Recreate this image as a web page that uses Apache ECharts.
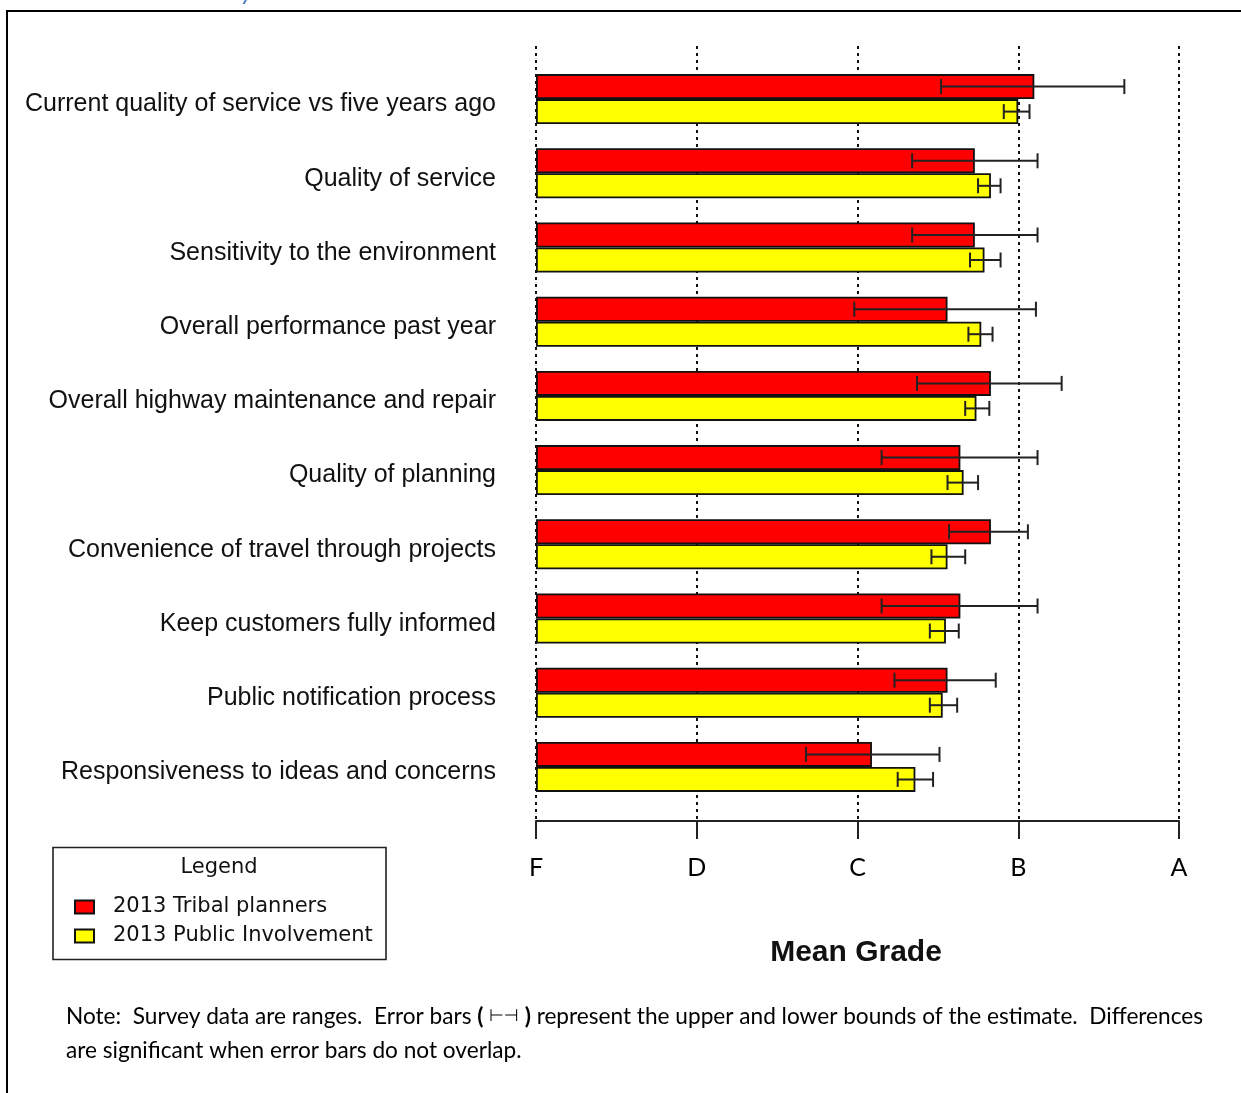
<!DOCTYPE html>
<html>
<head>
<meta charset="utf-8">
<script src="https://cdn.jsdelivr.net/npm/echarts@6/dist/echarts.min.js"></script>
<style>
  html, body { margin: 0; padding: 0; background: #fff; }
  #chart { width: 1241px; height: 1093px; }
</style>
</head>
<body>
<div id="chart"></div>
<script>
// ---- data ----
const categories = [
  'Current quality of service vs five years ago',
  'Quality of service',
  'Sensitivity to the environment',
  'Overall performance past year',
  'Overall highway maintenance and repair',
  'Quality of planning',
  'Convenience of travel through projects',
  'Keep customers fully informed',
  'Public notification process',
  'Responsiveness to ideas and concerns'
];
const gradeLabels = ['F', 'D', 'C', 'B', 'A'];
const seriesNames = ['2013 Tribal planners', '2013 Public Involvement'];

const tribalMean = [3.10, 2.73, 2.73, 2.56, 2.83, 2.64, 2.83, 2.64, 2.56, 2.09];
const tribalLow  = [2.52, 2.34, 2.34, 1.98, 2.37, 2.15, 2.57, 2.15, 2.23, 1.68];
const tribalHigh = [3.66, 3.12, 3.12, 3.11, 3.27, 3.12, 3.06, 3.12, 2.86, 2.51];

const publicMean = [3.00, 2.83, 2.79, 2.77, 2.74, 2.66, 2.56, 2.55, 2.53, 2.36];
const publicLow  = [2.91, 2.75, 2.70, 2.69, 2.67, 2.56, 2.46, 2.45, 2.45, 2.25];
const publicHigh = [3.07, 2.89, 2.89, 2.84, 2.82, 2.75, 2.67, 2.63, 2.62, 2.47];

const axisTitle = 'Mean Grade';
const legendTitle = 'Legend';

// ---- build ----
const BAR_W = 25;
const tribalErr = categories.map((c, i) => [i, tribalLow[i], tribalHigh[i]]);
const publicErr = categories.map((c, i) => [i, publicLow[i], publicHigh[i]]);

function errorRenderer(offset) {
  return function (params, api) {
    const cat = api.value(0);
    const p1 = api.coord([api.value(1), cat]);
    const p2 = api.coord([api.value(2), cat]);
    const y = p1[1] + offset;
    const h = 7.5;
    const style = { stroke: '#222', lineWidth: 2 };
    return {
      type: 'group',
      children: [
        { type: 'line', shape: { x1: p1[0], y1: y, x2: p2[0], y2: y }, style: style },
        { type: 'line', shape: { x1: p1[0], y1: y - h, x2: p1[0], y2: y + h }, style: style },
        { type: 'line', shape: { x1: p2[0], y1: y - h, x2: p2[0], y2: y + h }, style: style }
      ]
    };
  };
}

// Note text fitted to width
const noteA = 'Note:  Survey data are ranges.  Error bars ';
const noteB = ' represent the upper and lower bounds of the estimate.  Differences';
const noteLine2 = 'are significant when error bars do not overlap.';
const noteFont = 'Lato';
const cv = document.createElement('canvas').getContext('2d');
cv.font = '20px ' + noteFont;
const wPlain = cv.measureText(noteA + '(    )' + noteB).width;
const noteSize = Math.max(14, Math.min(26, 20 * 1119 / wPlain));

const chart = echarts.init(document.getElementById('chart'), null, { renderer: 'canvas' });

const plotLeft = 536, plotWidth = 643;

const option = {
  animation: false,
  backgroundColor: '#fff',
  grid: [
    { left: plotLeft, width: plotWidth, top: 62, height: 742 },
    { left: plotLeft, width: plotWidth, top: 46, height: 775 }
  ],
  xAxis: [
    { gridIndex: 0, type: 'value', min: 0, max: 4, interval: 1, show: false },
    {
      gridIndex: 1, type: 'value', min: 0, max: 4, interval: 1, position: 'bottom',
      axisLine: { show: true, lineStyle: { color: '#222', width: 2 } },
      axisTick: { show: true, length: 18, inside: false, lineStyle: { color: '#222', width: 2 } },
      axisLabel: {
        margin: 34, fontFamily: 'Lato', fontSize: 25, color: '#000',
        formatter: v => gradeLabels[Math.round(v)]
      },
      splitLine: { show: true, lineStyle: { color: '#111', width: 2, type: [3, 4] } }
    }
  ],
  yAxis: [
    {
      gridIndex: 0, type: 'category', inverse: true, data: categories,
      axisLine: { show: false }, axisTick: { show: false },
      axisLabel: {
        margin: 40, color: '#111',
        formatter: v => '{t|' + v + '}',
        rich: {
          t: {
            fontFamily: 'Liberation Sans, Arial, sans-serif', fontSize: 25, color: '#111',
            lineHeight: 30, padding: [11, 0, 0, 0]
          }
        }
      }
    },
    { gridIndex: 1, type: 'value', min: 0, max: 1, show: false }
  ],
  legend: {
    orient: 'vertical',
    left: 74, top: 896, padding: 0,
    itemWidth: 19, itemHeight: 13, itemGap: 7,
    icon: 'rect',
    data: seriesNames,
    textStyle: { fontFamily: 'DejaVu Sans', fontSize: 21, color: '#111', lineHeight: 22, padding: [0, 0, 0, 14] },
    selectedMode: false
  },
  series: [
    {
      name: seriesNames[0], type: 'bar', xAxisIndex: 0, yAxisIndex: 0,
      data: tribalMean, barWidth: BAR_W, barGap: '0%',
      itemStyle: { color: '#ff0000', borderColor: '#111', borderWidth: 1.8 },
      z: 3
    },
    {
      name: seriesNames[1], type: 'bar', xAxisIndex: 0, yAxisIndex: 0,
      data: publicMean, barWidth: BAR_W, barGap: '0%',
      itemStyle: { color: '#ffff00', borderColor: '#111', borderWidth: 1.8 },
      z: 3
    },
    {
      type: 'custom', xAxisIndex: 0, yAxisIndex: 0, data: tribalErr,
      encode: { x: [1, 2], y: 0 }, renderItem: errorRenderer(-BAR_W / 2), z: 5, silent: true
    },
    {
      type: 'custom', xAxisIndex: 0, yAxisIndex: 0, data: publicErr,
      encode: { x: [1, 2], y: 0 }, renderItem: errorRenderer(BAR_W / 2), z: 5, silent: true
    }
  ],
  graphic: [
    // page frame
    { type: 'line', shape: { x1: 6, y1: 11, x2: 1241, y2: 11 }, style: { stroke: '#000', lineWidth: 2 } },
    { type: 'line', shape: { x1: 7, y1: 10, x2: 7, y2: 1093 }, style: { stroke: '#000', lineWidth: 2 } },
    // cropped heading descender
    { type: 'text', x: 241, y: -21, style: { text: 'y', font: 'italic 26px Lato', fill: '#4f81bd' } },
    // legend box
    { type: 'rect', shape: { x: 53, y: 847.5, width: 333, height: 112 }, style: { fill: 'none', stroke: '#222', lineWidth: 1.6 } },
    { type: 'text', x: 219, y: 868, style: { text: legendTitle, font: '21px "DejaVu Sans"', fill: '#111', align: 'center', verticalAlign: 'middle' } },
    // axis title
    { type: 'text', x: 856, y: 953, style: { text: axisTitle, font: 'bold 30px "Liberation Sans", Arial, sans-serif', fill: '#111', align: 'center', verticalAlign: 'middle' } },
    // note
    {
      type: 'text', x: 66, y: 1000,
      style: {
        text: noteA + '{b|(} {s|⊢⊣} {b|)}' + noteB + '\n' + noteLine2,
        font: noteSize.toFixed(2) + 'px ' + noteFont,
        fill: '#000', verticalAlign: 'top', lineHeight: 34,
        rich: {
          b: { fontWeight: 'bold', fontFamily: noteFont, fontSize: noteSize, lineHeight: 34 },
          s: { fontFamily: 'DejaVu Sans', fontSize: noteSize * 0.75, lineHeight: 34 }
        }
      }
    }
  ]
};
chart.setOption(option);
</script>
</body>
</html>
